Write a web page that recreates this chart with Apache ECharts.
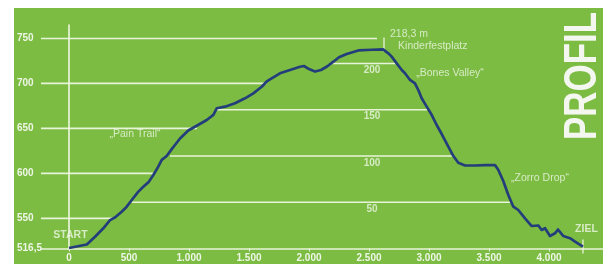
<!DOCTYPE html>
<html>
<head>
<meta charset="utf-8">
<script src="https://cdn.jsdelivr.net/npm/echarts@6/dist/echarts.min.js"></script>
<style>html,body{margin:0;padding:0;background:#fff;}#c{width:614px;height:264px;}</style>
</head>
<body>
<div id="c"></div>
<script>
// Profile data: distance (m) and elevation (m)
const distances = [0,148,217,286,342,383,439,481,523,578,619,661,703,744,773,814,856,883,925,994,1064,1148,1203,1231,1300,1383,1467,1536,1606,1648,1689,1758,1842,1925,1958,2000,2050,2100,2150,2203,2250,2314,2411,2525,2617,2661,2689,2731,2773,2800,2842,2883,2911,2939,2981,3023,3064,3106,3161,3203,3244,3300,3383,3467,3550,3578,3619,3661,3675,3703,3744,3800,3856,3911,3939,3967,4008,4050,4075,4119,4175,4217,4283];
const elevations = [517,521,529.6,539,548,551,557.4,563,570.4,579.7,585.2,590,598.2,607.5,615,619.3,627,631.6,638.8,647.7,653,659.4,665,672.4,674.2,678,683.5,689,696.4,702.2,705.7,711.3,715,718.6,719.4,716,713.3,715,718.9,724.2,729.2,732.8,736.7,737.5,737.8,733.5,729.8,722.4,715,711.3,703.9,700.2,692.7,683.5,674.2,664.9,653.8,643.8,629.7,619.3,611.9,608.8,608.8,609.3,609.3,603.8,591.6,576,571.5,563,559.3,550.1,541.5,542.1,537.1,539,530.4,533.4,537.6,530.4,527.9,524.2,518.7];

const xTicks = [0,500,1000,1500,2000,2500,3000,3500,4000];
const yTicks = [516.5,550,600,650,700,750];

// absolute grid lines (from axis to the climb)
const absGrid = [550,600,650,700,750];
const absGridEnd = [383,700,1067,1650,2567];
// relative height lines (between climb and descent)
const relGrid = [50,100,150,200];
const relGridStart = [522,842,1233,2192];
const relGridEnd = [3675,3200,2983,2733];
const relLabelX = 2525;

// annotations
const notes = ['START','„Pain Trail“','„Bones Valley“','„Zorro Drop“','ZIEL'];
const noteX = [12,550,3175,3925,4312];
const noteY = [531.5,643.8,711.6,594.9,538.2];
const noteBold = [true,false,false,false,true];

const peakTexts = ['218,3 m','Kinderfestplatz'];
const peakTextX = [2675,2742];
const peakTextY = [755,741];
const peakTickX = 2625;
const peakTickY = [735,751];
const finishTickX = 4283;
const finishTickY = [526.5,511];

const XMIN = -233.33, XMAX = 4450;
const FONT = '"Liberation Sans",Arial,sans-serif';
const TXT = '#eef6e6';
const GRIDC = 'rgba(238,247,226,0.95)';
const LINEC = '#233e7a';

function fmtX(v){ v=Math.round(v); if(v>=1000){const s=String(v);return s.slice(0,s.length-3)+'.'+s.slice(-3);} return String(v); }

const series = [];
absGrid.forEach((g,i)=>{
  series.push({type:'line',silent:true,symbol:'none',yAxisIndex:0,data:[[XMIN,g],[absGridEnd[i],g]],lineStyle:{color:GRIDC,width:1.7},z:1});
});
relGrid.forEach((g,i)=>{
  series.push({type:'line',silent:true,symbol:'none',yAxisIndex:1,data:[[relGridStart[i],g],[relGridEnd[i],g]],lineStyle:{color:GRIDC,width:1.7},z:1});
});
series.push({type:'scatter',yAxisIndex:1,symbolSize:0,silent:true,
  data:relGrid.map(g=>[relLabelX,g]),
  label:{show:true,position:'bottom',distance:2,formatter:p=>String(p.value[1]),color:TXT,fontFamily:FONT,fontSize:10,fontWeight:'bold'}});
// ticks at peak and finish
series.push({type:'line',silent:true,symbol:'none',clip:false,data:[[peakTickX,peakTickY[0]],[peakTickX,peakTickY[1]]],lineStyle:{color:GRIDC,width:1.3},z:3});
series.push({type:'line',silent:true,symbol:'none',clip:false,data:[[finishTickX,finishTickY[0]],[finishTickX,finishTickY[1]]],lineStyle:{color:GRIDC,width:1.3},z:3});
// profile
series.push({type:'line',silent:true,symbol:'none',data:distances.map((d,i)=>[d,elevations[i]]),lineStyle:{color:LINEC,width:2.7,join:'round'},z:5});
// annotations
series.push({type:'scatter',symbolSize:0,silent:true,
  data:notes.map((t,i)=>({value:[noteX[i],noteY[i]],name:t,label:{fontWeight:noteBold[i]?'bold':'normal'}})),
  label:{show:true,position:'inside',formatter:p=>p.name,color:TXT,fontFamily:FONT,fontSize:10.5}});
series.push({type:'scatter',symbolSize:0,silent:true,
  data:peakTexts.map((t,i)=>({value:[peakTextX[i],peakTextY[i]],name:t})),
  label:{show:true,position:'right',distance:0,formatter:p=>p.name,color:TXT,fontFamily:FONT,fontSize:10.5}});

const chart = echarts.init(document.getElementById('c'),null,{renderer:'canvas'});
chart.setOption({
  backgroundColor:'#ffffff',
  animation:false,
  graphic:{z:-10,elements:[
    {type:'rect',shape:{x:14,y:8,width:589,height:256},style:{fill:'#7cbc42'},silent:true},
    {type:'text',x:583,y:76,rotation:Math.PI/2,scaleX:0.76,silent:true,
      style:{text:'PROFIL',fill:'#f4f7ef',font:'bold 46px '+FONT,textAlign:'center',textVerticalAlign:'middle'}}
  ]},
  grid:{left:41,right:11,top:25,bottom:15.5},
  xAxis:{type:'value',min:XMIN,max:XMAX,
    axisLine:{lineStyle:{color:GRIDC,width:1.7}},
    axisTick:{show:true,length:3,lineStyle:{color:GRIDC},customValues:xTicks},
    splitLine:{show:false},
    axisLabel:{customValues:xTicks,formatter:fmtX,color:TXT,fontFamily:FONT,fontSize:10,fontWeight:'bold',margin:5}},
  yAxis:[
    {type:'value',min:516.5,max:765,
      axisLine:{show:true,lineStyle:{color:GRIDC,width:1.7}},
      axisTick:{show:false},splitLine:{show:false},
      axisLabel:{customValues:yTicks,formatter:v=>String(v).replace('.',','),align:'left',margin:24,color:TXT,fontFamily:FONT,fontSize:10,fontWeight:'bold'}},
    {type:'value',min:0,max:241.6,show:false,splitLine:{show:false}}
  ],
  series:series
});
</script>
</body>
</html>
